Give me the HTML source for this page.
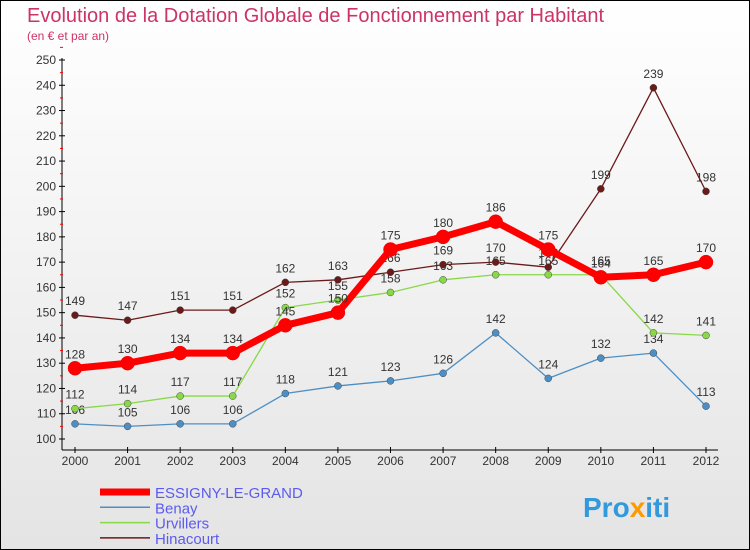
<!DOCTYPE html>
<html><head><meta charset="utf-8"><style>
body{margin:0;width:750px;height:550px;overflow:hidden;font-family:"Liberation Sans",sans-serif}
svg{display:block}
</style></head><body>
<svg width="750" height="550" id="c">
<defs><linearGradient id="bg" x1="0" y1="0" x2="0" y2="1"><stop offset="0" stop-color="#ffffff"/><stop offset="1" stop-color="#e4e4e4"/></linearGradient></defs>
<rect x="0.5" y="0.5" width="749" height="549" fill="url(#bg)" stroke="#000"/>
<text x="27" y="22" font-size="20" fill="#cc3366">Evolution de la Dotation Globale de Fonctionnement par Habitant</text>
<text x="27" y="40" font-size="12" fill="#cc3366">(en € et par an)</text>
<g id="axes"></g><g id="series"></g><g id="legend"></g>
<text x="583" y="517" font-size="28" font-weight="bold" fill="#3399dd">Pro<tspan fill="#ff9900">x</tspan>iti</text>
</svg>
<script>
const years=[2000,2001,2002,2003,2004,2005,2006,2007,2008,2009,2010,2011,2012];
const essigny=[128,130,134,134,145,150,175,180,186,175,164,165,170];
const benay=[106,105,106,106,118,121,123,126,142,124,132,134,113];
const urvillers=[112,114,117,117,152,155,158,163,165,165,165,142,141];
const hinacourt=[149,147,151,151,162,163,166,169,170,168,199,239,198];
const yTicks=[100,110,120,130,140,150,160,170,180,190,200,210,220,230,240,250];
const NS="http://www.w3.org/2000/svg";
const X=i=>75+i*(706-75)/12;
const Y=v=>439-(v-100)*(439-60)/150;
function mk(t,a,p){const e=document.createElementNS(NS,t);for(const k in a)e.setAttribute(k,a[k]);p.appendChild(e);return e;}
const ax=document.getElementById('axes');
let l=mk('line',{x1:62,y1:58,x2:62,y2:450,stroke:'#000'},ax);


l=mk('line',{x1:62,y1:450,x2:718,y2:450,stroke:'#000'},ax);


yTicks.forEach(v=>{
 mk('line',{x1:59,x2:65,y1:Y(v),y2:Y(v),stroke:'#000'},ax);
 mk('line',{x1:60,x2:63,y1:Y(v+5),y2:Y(v+5),stroke:'#f00'},ax);
 const t=mk('text',{x:56,y:Y(v)+4,'font-size':12,'text-anchor':'end',fill:'#333'},ax);t.textContent=v;
 
 
});
years.forEach((y,i)=>{
 mk('line',{x1:X(i),x2:X(i),y1:447,y2:453,stroke:'#000'},ax);
 const t=mk('text',{x:X(i),y:465,'font-size':12,'text-anchor':'middle',fill:'#333'},ax);t.textContent=y;
 
 
});
const sg=document.getElementById('series');
const S=[[benay,'#4d8fc4',1.3,3.5,'benay'],[urvillers,'#88d848',1.3,3.5,'urvillers'],[hinacourt,'#6b1a1a',1.3,3.5,'hinacourt'],[essigny,'#ff0000',7,7,'essigny-le-grand']];
S.forEach(([d,c,w,r,n])=>{
 const g=mk('g',{},sg);
 
 
 const p=mk('polyline',{points:d.map((v,i)=>X(i)+','+Y(v)).join(' '),fill:'none',stroke:c,'stroke-width':w,'stroke-linejoin':'round'},g);
 
 
 d.forEach((v,i)=>{
  const ci=mk('circle',{cx:X(i),cy:Y(v),r:r,fill:c,stroke:w>2?'#e00':'#444','stroke-width':0.5},g);
  
  
  const t=mk('text',{x:X(i),y:Y(v)-10,'font-size':12,'text-anchor':'middle',fill:'#333'},g);t.textContent=v;
  
  
 });
});
const lg=document.getElementById('legend');
[['ESSIGNY-LE-GRAND','#ff0000',7],['Benay','#4d8fc4',1.5],['Urvillers','#88d848',1.5],['Hinacourt','#6b1a1a',1.5]].forEach(([n,c,w],i)=>{
 const y=492+i*15.3;
 const g=mk('g',{},lg);
 
 
 mk('line',{x1:100,x2:150,y1:y,y2:y,stroke:c,'stroke-width':w},g);
 const t=mk('text',{x:155,y:y+6,'font-size':15,fill:'#5b5bf0'},g);t.textContent=n;
});
</script>
</body></html>
